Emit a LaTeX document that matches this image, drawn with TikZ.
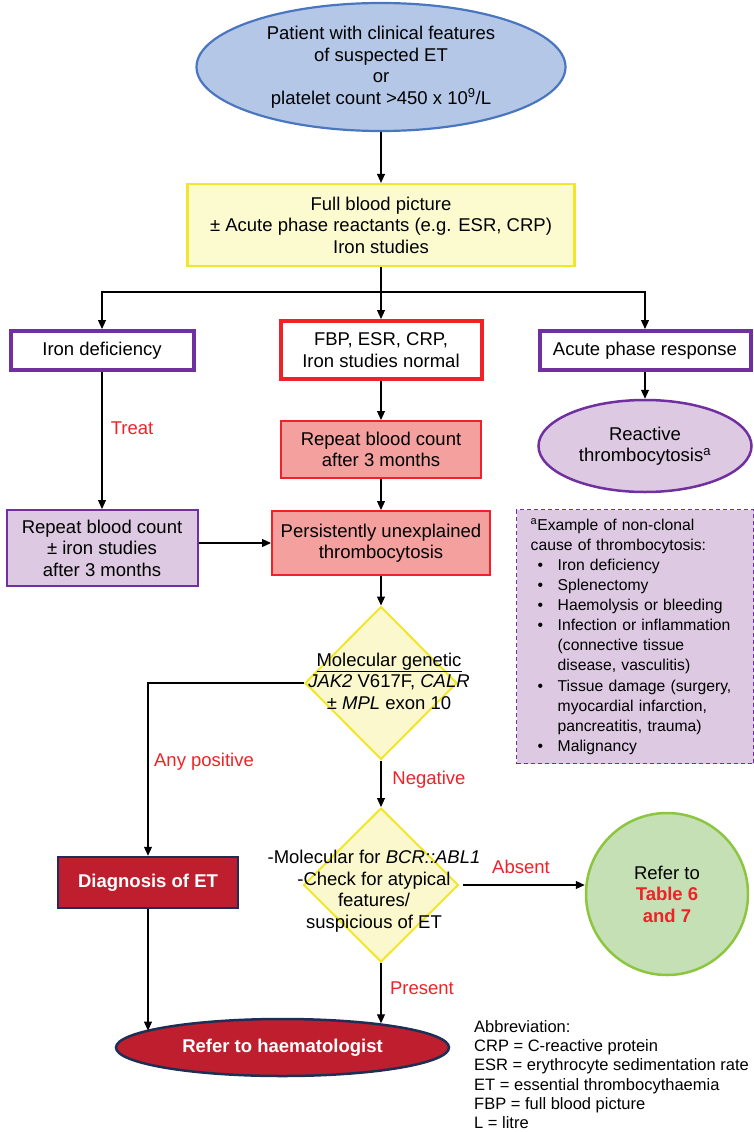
\documentclass[tikz,border=0pt]{standalone}
\usepackage{fontspec}
\setmainfont{Liberation Sans}
\usetikzlibrary{arrows.meta,shapes.geometric}

\definecolor{startfill}{HTML}{B4C7E7}
\definecolor{startline}{HTML}{4A76C0}
\definecolor{yfill}{HTML}{FCFBD0}
\definecolor{yline}{HTML}{F2E62B}
\definecolor{purpline}{HTML}{7030A0}
\definecolor{lilac}{HTML}{DDC9E2}
\definecolor{redline}{HTML}{EE2227}
\definecolor{salmon}{HTML}{F4A09E}
\definecolor{dfill}{HTML}{FAF8CC}
\definecolor{etred}{HTML}{BE1E2D}
\definecolor{etnavy}{HTML}{1E2F55}
\definecolor{gfill}{HTML}{C5E0B4}
\definecolor{gline}{HTML}{8CC63F}
\definecolor{labred}{HTML}{EE2227}

\newcommand{\causeitem}[1]{\makebox[27pt][l]{\hspace*{7pt}\textbullet}#1}
\newcommand{\causecont}[1]{\hspace*{27pt}#1}

\begin{document}
\begin{tikzpicture}[
    x=1pt, y=-1pt,
    >={Triangle[length=9pt,width=8pt]},
    font=\fontsize{18.5}{21.5}\selectfont,
    arr/.style={->, line width=1.1pt},
    lnk/.style={line width=1.1pt},
    startnode/.style={ellipse, draw=startline, fill=startfill, line width=2.2pt,
                      inner sep=0pt, align=center},
    ybox/.style={draw=yline, fill=yfill, line width=2.2pt, align=center},
    pbox/.style={draw=purpline, fill=white, line width=4pt, align=center},
    rbox/.style={draw=redline, fill=white, line width=4pt, align=center},
    sbox/.style={draw=redline, fill=salmon, line width=2pt, align=center},
    lbox/.style={draw=purpline, fill=lilac, line width=2pt, align=center},
    dia/.style={diamond, draw=yline, fill=dfill, line width=2pt, inner sep=0pt},
    etbox/.style={draw=etnavy, fill=etred, line width=2.5pt, text=white,
                  font=\fontsize{18.5}{21.5}\selectfont\bfseries, align=center},
    note/.style={draw=purpline, fill=lilac, line width=1.4pt,
                 dash pattern=on 4pt off 3pt, align=left,
                 font=\fontsize{15.7}{20.1}\selectfont},
    lab/.style={text=labred}
]
\useasboundingbox (0,0) rectangle (754,1132);

% ---- shared column x-positions ----
\def\cL{102}
\def\cM{381}
\def\cR{645}

% ===== TOP =====
\node[startnode, minimum width=369pt, minimum height=128pt] (start) at (\cM,67)
    {Patient with clinical features\\of suspected ET\\or\\platelet count >450 x 10\textsuperscript{9}/L};
\node[ybox, minimum width=387pt, minimum height=82pt] (fbp) at (\cM,225)
    {Full blood picture\\± Acute phase reactants (e.g. ESR, CRP)\\Iron studies};

% ===== THREE BRANCHES =====
\node[pbox, minimum width=183pt, minimum height=39pt] (irondef) at (\cL,350.5) {Iron deficiency};
\node[rbox, minimum width=201pt, minimum height=58pt] (normal) at (\cM,350) {FBP, ESR, CRP,\\Iron studies normal};
\node[pbox, minimum width=211pt, minimum height=39pt] (acute) at (\cR,350.5) {Acute phase response};

\node[ellipse, draw=purpline, fill=lilac, line width=2.5pt, inner sep=0pt, align=center,
      minimum width=213pt, minimum height=92pt] (reactive) at (\cR,446)
    {Reactive\\thrombocytosis\textsuperscript{a}};

\node[sbox, minimum width=200pt, minimum height=57pt] (repcount) at (\cM,449.5) {Repeat blood count\\after 3 months};
\node[lbox, minimum width=191pt, minimum height=76pt] (repiron) at (\cL,548) {Repeat blood count\\± iron studies\\after 3 months};
\node[sbox, minimum width=218pt, minimum height=64pt] (persist) at (\cM,543) {Persistently unexplained\\thrombocytosis};

% footnote box
\node[note, anchor=north west, text width=209pt, inner xsep=14pt, minimum height=254pt] (causes) at (516,509)
    {\textsuperscript{a}Example of non-clonal\\
     cause of thrombocytosis:\\
     \causeitem{Iron deficiency}\\
     \causeitem{Splenectomy}\\
     \causeitem{Haemolysis or bleeding}\\
     \causeitem{Infection or inflammation}\\
     \causecont{(connective tissue}\\
     \causecont{disease, vasculitis)}\\
     \causeitem{Tissue damage (surgery,}\\
     \causecont{myocardial infarction,}\\
     \causecont{pancreatitis, trauma)}\\
     \causeitem{Malignancy}};

% ===== DECISIONS =====
\node[dia, minimum width=152pt, minimum height=153pt] (mol) at (\cM,683) {};
\node[align=center] (moltxt) at (389,681)
    {\underline{Molecular genetic}\\\textit{JAK2} V617F, \textit{CALR}\\± \textit{MPL} exon 10};

\node[dia, minimum width=155pt, minimum height=154pt] (bcr) at (\cM,885) {};
\node[align=center] (bcrtxt) at (374,891)
    {-Molecular for \textit{BCR::ABL1}\\-Check for atypical\\features/\\suspicious of ET};

\node[etbox, minimum width=180pt, minimum height=51pt] (diag) at (148,882.5) {Diagnosis of ET};

\node[circle, draw=gline, fill=gfill, line width=2.5pt, inner sep=0pt, align=center,
      minimum size=162pt] (tables) at (667,894)
    {Refer to\\\textcolor{labred}{\bfseries Table 6}\\\textcolor{labred}{\bfseries and 7}};

\node[ellipse, draw=etnavy, fill=etred, line width=2.5pt, inner sep=0pt, text=white,
      font=\fontsize{18.5}{21.5}\selectfont\bfseries,
      minimum width=333pt, minimum height=57pt] (haem) at (282.5,1047.5) {Refer to haematologist};

\node[anchor=north west, align=left, inner sep=0pt, font=\fontsize{16.5}{19.3}\selectfont] (abbr) at (474,1020)
    {Abbreviation:\\CRP = C-reactive protein\\ESR = erythrocyte sedimentation rate\\ET = essential thrombocythaemia\\FBP = full blood picture\\L = litre};

% ---- edge labels ----
\node[lab] (treat)   at (132,428) {Treat};
\node[lab] (anypos)  at (204,762) {Any positive};
\node[lab] (neg)     at (429,780) {Negative};
\node[lab] (absent)  at (521,867) {Absent};
\node[lab] (present) at (422,988) {Present};

% ===== CONNECTORS =====
\draw[arr] (start) -- (fbp);
\coordinate (split) at (\cM,292);
\draw[lnk] (fbp.south) -- (split);
\draw[arr] (split) -| (irondef.north);
\draw[arr] (split) -- (normal.north);
\draw[arr] (split) -| (acute.north);

\draw[arr] (acute) -- (reactive);
\draw[arr] (irondef) -- (repiron);
\draw[arr] (normal) -- (repcount);
\draw[arr] (repcount) -- (persist);
\draw[arr] (persist.west -| repiron.east) -- (persist.west);

\draw[arr] (persist) -- (mol);
\draw[arr] (mol.west) -| (diag.north);
\draw[arr] (mol) -- (bcr);
\draw[arr, shorten <=3pt] (bcr.east) -- (bcr.east -| tables.west);
% both arrows stop on the ellipse rim
\draw[arr] (diag.south) -- (diag.south |- haem.173);
\draw[arr] (bcr.south) -- (bcr.south |- haem.14);

\end{tikzpicture}
\end{document}
